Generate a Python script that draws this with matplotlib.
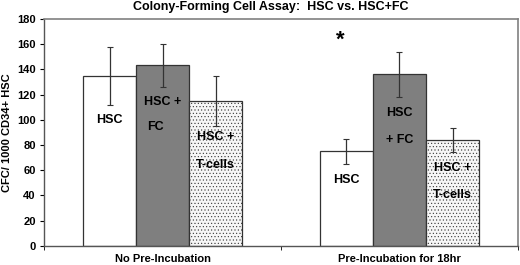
import matplotlib.pyplot as plt
import numpy as np

plt.rcParams['font.family'] = ['Liberation Sans', 'DejaVu Sans']
plt.rcParams['font.weight'] = 'bold'

groups = ['No Pre-Incubation', 'Pre-Incubation for 18hr']
hsc = [135, 75]
hsc_err = [23, 10]
hsc_fc = [143, 136]
hsc_fc_err = [17, 18]
hsc_t = [115, 84]
hsc_t_err = [20, 9.5]

fig = plt.figure(figsize=(5.2, 2.65), dpi=100)
ax = fig.add_axes([0.085, 0.072, 0.911, 0.857])

x = np.arange(len(groups))
w = 0.224

ekw = dict(ecolor='#333333', elinewidth=0.9, capsize=2.5, capthick=0.8)
ax.bar(x - w, hsc, w, yerr=hsc_err, color='white', edgecolor='#333333', linewidth=0.9, error_kw=ekw, zorder=2)
ax.bar(x, hsc_fc, w, yerr=hsc_fc_err, color='#7f7f7f', edgecolor='#333333', linewidth=0.9, error_kw=ekw, zorder=2)
plt.rcParams['hatch.color'] = '#c8c8c8'
plt.rcParams['hatch.linewidth'] = 0.4
ax.bar(x + w, hsc_t, w, yerr=hsc_t_err, color='#f6f6f6', edgecolor='#333333', linewidth=0.9,
       hatch='.....', error_kw=ekw, zorder=2)

# labels inside the bars
tk = dict(ha='center', va='center', fontsize=9, fontweight='bold', zorder=3)
ax.text(x[0] - w, 100, 'HSC', **tk)
ax.text(x[0], 114, 'HSC +', **tk)
ax.text(x[0] - 0.03, 94, 'FC', **tk)
ax.text(x[0] + w, 86, 'HSC +', **tk)
ax.text(x[0] + w, 64, 'T-cells', **tk)
ax.text(x[1] - w, 52, 'HSC', **tk)
ax.text(x[1], 105, 'HSC', **tk)
ax.text(x[1], 84, '+ FC', **tk)
ax.text(x[1] + w, 62, 'HSC +', **tk)
ax.text(x[1] + w, 40, 'T-cells', **tk)
ax.text(x[1] - 0.25, 163, '*', ha='center', va='center', fontsize=16, fontweight='bold')

ax.set_xlim(-0.5, 1.5)
ax.set_ylim(0, 180)
ax.set_yticks(range(0, 181, 20))
ax.set_xticks(x)
ax.set_xticklabels(groups, fontsize=8, fontweight='bold')
ax.set_xticks([-0.5, 0.5, 1.5], minor=True)
ax.tick_params(axis='x', which='major', length=0, pad=6)
ax.tick_params(axis='x', which='minor', length=3, direction='out')
ax.tick_params(axis='y', labelsize=8, length=3, pad=3)
for lab in ax.get_yticklabels():
    lab.set_fontweight('bold')

for s in ['top', 'right']:
    ax.spines[s].set_color('#808080')
    ax.spines[s].set_linewidth(1.2)
for s in ['left', 'bottom']:
    ax.spines[s].set_color('#555555')
    ax.spines[s].set_linewidth(1.0)

ax.set_ylabel('CFC/ 1000 CD34+ HSC', fontsize=8, fontweight='bold', labelpad=4)
fig.suptitle('Colony-Forming Cell Assay:  HSC vs. HSC+FC', fontsize=9, fontweight='bold', x=0.52, y=0.995)

fig.savefig('out.png', dpi=100)
